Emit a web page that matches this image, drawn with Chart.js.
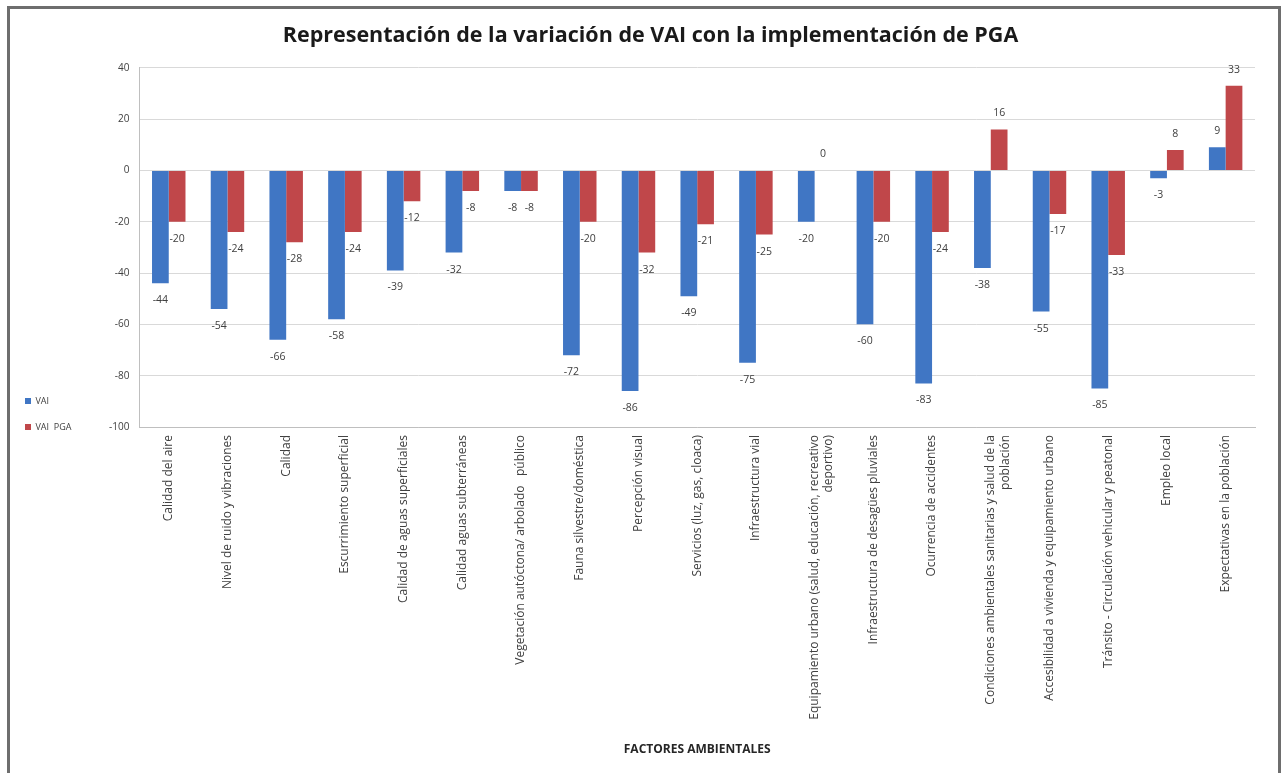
<!DOCTYPE html>
<html>
<head>
<meta charset="utf-8">
<script src="https://cdn.jsdelivr.net/npm/chart.js@4.4.1/dist/chart.umd.min.js"></script>
<style>
  html, body { margin: 0; padding: 0; background: #ffffff; }
  body { width: 1286px; height: 773px; position: relative; overflow: hidden; }
  #frame { position: absolute; left: 7px; top: 6px; width: 1274px; height: 800px;
           border: 3px solid #6e6e6e; box-sizing: border-box; }
  #c { position: absolute; left: 0; top: 0; }
</style>
</head>
<body>
<div id="frame"></div>
<canvas id="c" width="1286" height="773"></canvas>
<script>
const categories = [
  "Calidad del aire",
  "Nivel de ruido y vibraciones",
  "Calidad",
  "Escurrimiento superficial",
  "Calidad de aguas superficiales",
  "Calidad aguas subterráneas",
  "Vegetación autóctona/ arbolado   público",
  "Fauna silvestre/doméstica",
  "Percepción visual",
  "Servicios (luz, gas, cloaca)",
  "Infraestructura vial",
  ["Equipamiento urbano (salud, educación, recreativo", "deportivo)"],
  "Infraestructura de desagües pluviales",
  "Ocurrencia de accidentes",
  ["Condiciones ambientales sanitarias y salud de la", "población"],
  "Accesibilidad a vivienda y equipamiento urbano",
  "Tránsito - Circulación vehicular y peatonal",
  "Empleo local",
  "Expectativas en la población"
];
const vai    = [-44, -54, -66, -58, -39, -32, -8, -72, -86, -49, -75, -20, -60, -83, -38, -55, -85, -3, 9];
const vaiPga = [-20, -24, -28, -24, -12, -8, -8, -20, -32, -21, -25, 0, -20, -24, 16, -17, -33, 8, 33];
const seriesNames = ["VAI", "VAI  PGA"];
const yMin = -100, yMax = 40, yStep = 20;

const FONT = "'Open Sans', 'DejaVu Sans', sans-serif";

const dataLabels = {
  id: 'dataLabels',
  afterDatasetsDraw(chart) {
    const ctx = chart.ctx;
    ctx.save();
    ctx.font = "10.5px " + FONT;
    ctx.fillStyle = "#404040";
    ctx.textAlign = "center";
    ctx.textBaseline = "middle";
    chart.data.datasets.forEach((ds, i) => {
      const meta = chart.getDatasetMeta(i);
      meta.data.forEach((el, j) => {
        const v = ds.data[j];
        const y = v < 0 ? el.y + 17 : el.y - 16;
        ctx.fillText(String(v), el.x, y);
      });
    });
    ctx.restore();
  }
};

const boxShift = {
  id: 'boxShift',
  afterLayout(chart) {
    const l = chart.legend;
    if (l) {
      const dy = 24, dx = -6;
      l.top += dy; l.bottom += dy; l.left += dx; l.right += dx;
    }
    const t = chart.titleBlock;
    if (t) { t.left += 16; t.right += 16; }
  }
};

new Chart(document.getElementById('c'), {
  type: 'bar',
  data: {
    labels: categories,
    datasets: [
      { label: seriesNames[0], data: vai, backgroundColor: "#4076c4", categoryPercentage: 0.57, barPercentage: 1.0 },
      { label: seriesNames[1], data: vaiPga, backgroundColor: "#c0474a", categoryPercentage: 0.57, barPercentage: 1.0 }
    ]
  },
  options: {
    responsive: false,
    animation: false,
    layout: { padding: { top: 23, left: 14, right: 31, bottom: 16 } },
    plugins: {
      title: {
        display: true,
        text: "Representación de la variación de VAI con la implementación de PGA",
        font: { family: FONT, size: 21.5, weight: 'bold' },
        color: "#1a1a1a",
        padding: { top: 0, bottom: 19 }
      },
      legend: {
        position: 'left',
        align: 'center',
        labels: {
          boxWidth: 6, boxHeight: 6, padding: 17,
          font: { family: FONT, size: 9 }, color: "#404040"
        }
      },
      tooltip: { enabled: false }
    },
    scales: {
      x: {
        grid: { display: false, drawTicks: false },
        border: { display: true, color: "#bfbfbf" },
        ticks: {
          autoSkip: false, maxRotation: 90, minRotation: 90, padding: 8,
          font: { family: FONT, size: 12 }, color: "#404040"
        },
        title: {
          display: true, text: "FACTORES AMBIENTALES",
          font: { family: FONT, size: 12, weight: 'bold' }, color: "#262626",
          padding: 0
        },
        afterFit(scale) { scale.height = 330; }
      },
      y: {
        min: yMin, max: yMax,
        grid: { color: "#d9d9d9", drawTicks: false },
        border: { display: true, color: "#bfbfbf" },
        ticks: { stepSize: yStep, padding: 10, font: { family: FONT, size: 10 }, color: "#404040" },
        afterFit(scale) { scale.width = 52; }
      }
    }
  },
  plugins: [dataLabels, boxShift]
});
</script>
</body>
</html>
